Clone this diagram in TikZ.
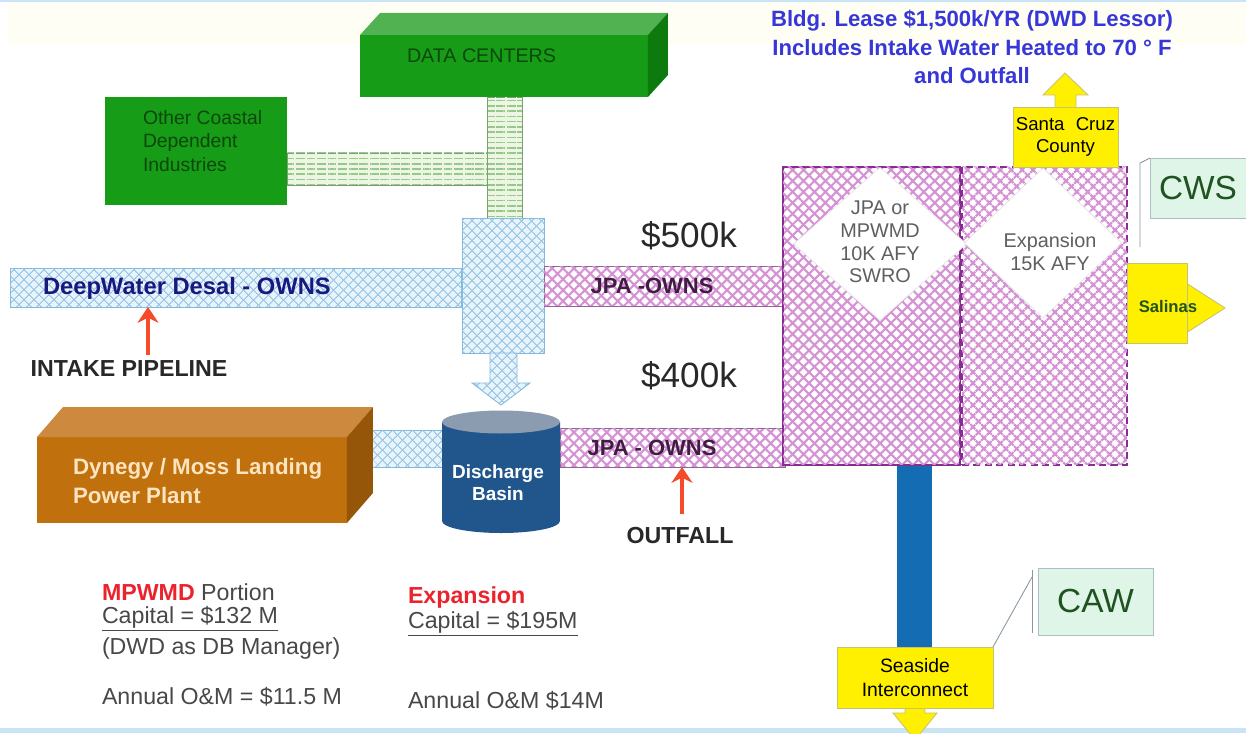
\documentclass[tikz,border=0pt]{standalone}
\usepackage{fontspec}
\setmainfont{Liberation Sans}
\usetikzlibrary{shapes.geometric, arrows.meta, positioning, calc, patterns.meta}
\definecolor{boxgreen}{RGB}{22,156,22}
\definecolor{boxgreentop}{RGB}{80,178,80}
\definecolor{boxgreenside}{RGB}{12,122,12}
\definecolor{textgreen}{RGB}{12,72,12}
\definecolor{plantbrown}{RGB}{192,112,12}
\definecolor{planttop}{RGB}{205,138,62}
\definecolor{plantside}{RGB}{150,86,10}
\definecolor{plantcream}{RGB}{252,228,192}
\definecolor{basinblue}{RGB}{32,86,140}
\definecolor{basintop}{RGB}{140,156,176}
\definecolor{barblue}{RGB}{20,108,178}
\definecolor{pipeblue}{RGB}{232,244,252}
\definecolor{hatchblue}{RGB}{130,185,222}
\definecolor{pipegreen}{RGB}{236,246,226}
\definecolor{hatchgreen}{RGB}{150,200,140}
\definecolor{hatchpurple}{RGB}{212,145,212}
\definecolor{framepurple}{RGB}{135,45,145}
\definecolor{signyellow}{RGB}{255,240,0}
\definecolor{signedge}{RGB}{200,195,110}
\definecolor{calloutgreen}{RGB}{222,245,232}
\definecolor{calloutedge}{RGB}{170,190,200}
\definecolor{leaseblue}{RGB}{55,55,215}
\definecolor{ownsred}{RGB}{235,35,45}
\definecolor{arrowred}{RGB}{245,75,40}
\definecolor{darktext}{RGB}{40,40,40}
\definecolor{greytext}{RGB}{95,95,95}
\definecolor{frameline}{RGB}{200,228,245}

\begin{document}
\begin{tikzpicture}[
    x=0.02cm, y=-0.02cm,
    >=Stealth,
    every node/.style={inner sep=0pt, outer sep=0pt},
    bluepipe/.style={draw=hatchblue, line width=0.5pt, preaction={fill=pipeblue},
        pattern={Lines[angle=45,distance=4pt,line width=0.6pt]}, pattern color=hatchblue!80,
        postaction={pattern={Lines[angle=-45,distance=4pt,line width=0.6pt]}, pattern color=hatchblue!80}},
    purplepipe/.style={draw=hatchpurple!70!black, line width=0.5pt, preaction={fill=white},
        pattern={Lines[angle=45,distance=4.4pt,line width=1.2pt]}, pattern color=hatchpurple,
        postaction={pattern={Lines[angle=-45,distance=4.4pt,line width=1.2pt]}, pattern color=hatchpurple}},
    greenpipe/.style={draw=hatchgreen!80!black, line width=0.5pt, preaction={fill=pipegreen},
        pattern={Lines[angle=0,distance=3pt,line width=0.9pt]}, pattern color=hatchgreen,
        postaction={pattern={Lines[angle=90,distance=6pt,line width=1pt]}, pattern color=pipegreen}},
    pipe/.style={rectangle, anchor=north west},
    greenbox/.style={rectangle, anchor=north west, fill=boxgreen},
    plantbox/.style={rectangle, anchor=north west, fill=plantbrown},
    plantframe/.style={rectangle, anchor=north west, draw=framepurple, line width=1.6pt},
    signbox/.style={rectangle, anchor=north west, fill=signyellow, draw=signedge, line width=0.5pt},
    signarrow/.style={fill=signyellow, draw=signedge, line width=0.5pt},
    callout/.style={rectangle, anchor=north west, fill=calloutgreen, draw=calloutedge, line width=0.5pt,
        font=\fontsize{19}{21}\selectfont, text=darktext!80!green},
    calloutline/.style={draw=calloutedge!80!black, line width=0.5pt},
    valve/.style={diamond, fill=white, draw=white!90!black, line width=0.4pt},
    valvetext/.style={font=\fontsize{11.3}{13}\selectfont, text=greytext, align=center},
    pipelabel/.style={font=\fontsize{12.5}{14}\selectfont\bfseries, text=darktext!70!violet},
    price/.style={font=\fontsize{20}{22}\selectfont, text=darktext},
    caption/.style={font=\fontsize{13.2}{15}\selectfont\bfseries, text=darktext},
    redarrow/.style={arrowred, line width=2pt, -{Stealth[length=9pt,width=12pt]}},
    costtext/.style={font=\fontsize{13.2}{15}\selectfont, text=darktext!85, anchor=west},
    smalltext/.style={font=\fontsize{11.2}{13}\selectfont, text=darktext},
]
\useasboundingbox (0,0) rectangle (1246,733);
\fill[white] (0,0) rectangle (1246,733);
\fill[yellow!4] (8,3) rectangle (1246,45);
\draw[frameline, line width=1.5pt] (0,1) -- (1246,1);
\fill[frameline] (0,728) rectangle (1246,733);

% === PIPES ===
\node[pipe, greenpipe, minimum width=4cm, minimum height=0.64cm] (coastfeed) at (287,153) {};
\node[pipe, greenpipe, minimum width=0.7cm, minimum height=2.42cm] (dcfeed) at (487,97) {};
\node[pipe, bluepipe, minimum width=9.04cm, minimum height=0.78cm] (intake) at (10,268) {};
\node[pipe, bluepipe, minimum width=1.64cm, minimum height=2.7cm] (mixer) at (462,218) {};
\node[pipe, purplepipe, minimum width=4.82cm, minimum height=0.8cm] (upperjpa) at (544,266) {};
\node[pipe, bluepipe, minimum width=1.44cm, minimum height=0.74cm] (plantfeed) at (370,430) {};
\node[pipe, purplepipe, minimum width=4.5cm, minimum height=0.78cm] (lowerjpa) at (560,428) {};

% hollow arrow from mixer into basin
\draw[bluepipe] (490,353) -- (517,353) -- (517,383) -- (530,383) -- (501,405)
    -- (472,383) -- (490,383) -- cycle;

% === SOURCES ===
\node[greenbox, minimum width=3.64cm, minimum height=2.16cm] (othercoast) at (105,97) {};
\node[smalltext, text=textgreen, anchor=west, align=left,
      font=\fontsize{11}{13.6}\selectfont] (othercoastlbl) at (143,141)
    {Other Coastal\\Dependent\\Industries};

\node[greenbox, minimum width=5.76cm, minimum height=1.24cm] (datacenters) at (360,35) {};
\fill[boxgreentop] (datacenters.north west) -- ++(20,-22) -- ($(datacenters.north east)+(20,-22)$)
    -- (datacenters.north east) -- cycle;
\fill[boxgreenside] (datacenters.north east) -- ++(20,-22) -- ($(datacenters.south east)+(20,-22)$)
    -- (datacenters.south east) -- cycle;
\node[smalltext, text=textgreen, anchor=west] (datacenterslbl) at (407,56) {DATA CENTERS};

\node[plantbox, minimum width=6.2cm, minimum height=1.72cm] (plant) at (37,437) {};
\fill[planttop] (plant.north west) -- ++(26,-30) -- ($(plant.north east)+(26,-30)$)
    -- (plant.north east) -- cycle;
\fill[plantside] (plant.north east) -- ++(26,-30) -- ($(plant.south east)+(26,-30)$)
    -- (plant.south east) -- cycle;
\node[anchor=west, align=left, text=plantcream, font=\fontsize{12.7}{16}\selectfont\bfseries]
    (plantlbl) at (73,481) {Dynegy / Moss Landing\\Power Plant};

% Discharge basin
\fill[basinblue] (442,422) -- (442,521) arc[start angle=180, end angle=360, x radius=1.18cm, y radius=0.24cm]
    -- (560,422) -- cycle;
\fill[basintop] (501,422) ellipse[x radius=1.18cm, y radius=0.23cm];
\node[align=center, text=white, font=\fontsize{10.8}{12.4}\selectfont\bfseries] (basin) at (498,483)
    {Discharge\\Basin};

% === PIPE LABELS ===
\node[pipelabel, anchor=west, text=darktext!60!blue, font=\fontsize{13.5}{15}\selectfont\bfseries]
    (intakelbl) at (43,288) {DeepWater Desal - OWNS};
\node[pipelabel] (upperowns) at (652,286) {JPA -OWNS};
\node[pipelabel] (lowerowns) at (652,448) {JPA - OWNS};
\node[price] (price500) at (689,236) {\$500k};
\node[price] (price400) at (689,376) {\$400k};

\node[caption] (intakecap) at (129,369) {INTAKE PIPELINE};
\node[caption] (outfallcap) at (680,536) {OUTFALL};
\coordinate (intaketail) at (148,355);
\coordinate (outfalltail) at (682,514);
\draw[redarrow] (intaketail) -- (intaketail |- intake.south);
\draw[redarrow] (outfalltail) -- (outfalltail |- lowerjpa.south);

% === PLANT ===
\node[rectangle, anchor=north west, fill=barblue, minimum width=0.7cm, minimum height=3.64cm]
    (seasidebar) at (897,465) {};
\node[plantframe, purplepipe, draw=framepurple, line width=1.6pt,
      minimum width=3.54cm, minimum height=5.96cm] (srobox) at (783,167) {};
\node[plantframe, purplepipe, draw=framepurple, line width=1.6pt, dash pattern=on 4pt off 2.5pt,
      minimum width=3.3cm, minimum height=5.96cm] (expbox) at (962,167) {};
\node[valve, minimum width=3.46cm, minimum height=3.06cm] (srodiamond) at (880,244) {};
\node[valve, minimum width=3.14cm, minimum height=3cm] (expdiamond) at (1043,243) {};
\node[valvetext] (srolbl) at (880,242) {JPA or\\MPWMD\\10K AFY\\SWRO};
\node[valvetext] (explbl) at (1050,252) {Expansion\\15K AFY};

% === DELIVERIES ===
\draw[signarrow] (1055,108) -- (1055,95) -- (1043,95) -- (1065,73) -- (1088,95) -- (1076,95)
    -- (1076,108) -- cycle;
\node[signbox, minimum width=2.1cm, minimum height=1.2cm, align=center,
      font=\fontsize{10.6}{13}\selectfont] (santacruz) at (1013,107) {Santa\hspace{0.6em}Cruz\\County};

\draw[signarrow] (1186,283) -- (1225,308) -- (1186,333) -- cycle;
\node[signbox, minimum width=1.2cm, minimum height=1.6cm] (salinas) at (1127,263) {};
\node[font=\fontsize{9.5}{10}\selectfont\bfseries, text=darktext!80!green] (salinaslbl) at (1168,307) {Salinas};

\draw[signarrow] (905,707) -- (905,713) -- (893,713) -- (915,740) -- (937,713) -- (925,713)
    -- (925,707) -- cycle;
\node[signbox, minimum width=3.12cm, minimum height=1.22cm, align=center,
      font=\fontsize{11}{13.5}\selectfont] (seaside) at (837,647) {Seaside\\Interconnect};

% === CALLOUTS ===
\node[callout, minimum width=1.92cm, minimum height=1.2cm] (cws) at (1150,158) {CWS};
\coordinate (cwsbend) at (1140,163);
\coordinate (cwstip) at (1140,247);
\draw[calloutline] (cws.north west) -- (cwsbend) -- (cwstip);

\node[callout, minimum width=2.3cm, minimum height=1.34cm] (caw) at (1038,568) {CAW};
\coordinate (cawtop) at (1032,570);
\coordinate (cawbottom) at (1032,633);
\coordinate (cawknee) at (1032,577);
\draw[calloutline] (cawtop) -- (cawbottom);
\draw[calloutline] (cawknee) -- (seaside.north east);

% === NOTES ===
\node[align=center, text=leaseblue, font=\fontsize{12.6}{16}\selectfont\bfseries] (leasenote) at (972,47)
    {Bldg. Lease \$1,500k/YR (DWD Lessor)\\Includes Intake Water Heated to 70 \textdegree\ F\\and Outfall};

\node[costtext] (mpwmdhead) at (102,592) {\textcolor{ownsred}{\textbf{MPWMD}} Portion};
\node[costtext] (mpwmdcap) at (102,619) {\underline{Capital = \$132 M}};
\node[costtext] (mpwmdmgr) at (102,648) {(DWD as DB Manager)};
\node[costtext] (mpwmdom) at (102,697) {Annual O\&M = \$11.5 M};
\node[costtext] (exphead) at (408,597) {\textcolor{ownsred}{\textbf{Expansion}}};
\node[costtext] (expcap) at (408,624) {\underline{Capital = \$195M}};
\node[costtext] (expom) at (408,701) {Annual O\&M \$14M};

\end{tikzpicture}
\end{document}
